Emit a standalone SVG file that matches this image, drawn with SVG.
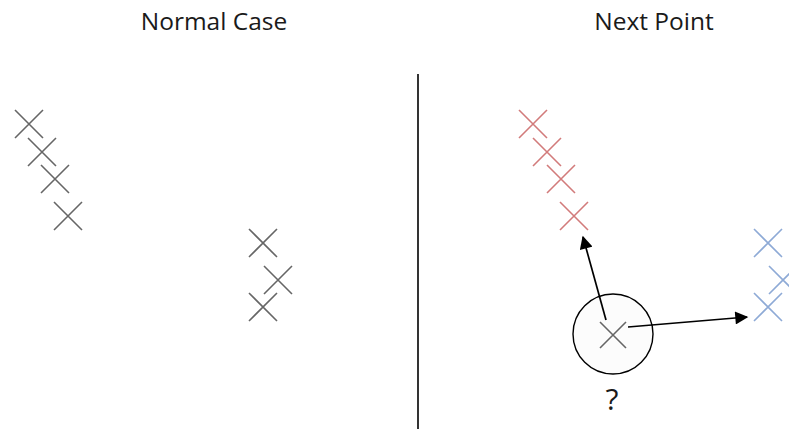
<svg xmlns="http://www.w3.org/2000/svg" width="789" height="429" viewBox="0 0 789 429">
<defs>
<style>
.t{font-family:"Open Sans","Noto Sans","Liberation Sans",sans-serif;font-size:24.5px;fill:#1a1a1a;text-anchor:middle}
.xg{stroke:#666;stroke-width:1.6;fill:none}
.xr{stroke:#d27b7b;stroke-width:1.6;fill:none}
.xb{stroke:#8eaad6;stroke-width:1.6;fill:none}
.ar{stroke:#000;stroke-width:1.7;fill:none;marker-end:url(#ah)}
</style>
<marker id="ah" viewBox="0 0 10 10" refX="9" refY="5" markerWidth="14" markerHeight="13" markerUnits="userSpaceOnUse" orient="auto">
<path d="M0,0 L10,5 L0,10 z" fill="#000"/>
</marker>
<path id="x" d="M-14,-14 L14,14 M14,-14 L-14,14"/>
<path id="xs" d="M-13,-13 L13,13 M13,-13 L-13,13"/>
</defs>
<rect width="789" height="429" fill="#fff"/>
<text class="t" x="214" y="30">Normal Case</text>
<text class="t" x="654" y="30">Next Point</text>
<line x1="418" y1="74" x2="418" y2="429" stroke="#000" stroke-width="1.6"/>
<g id="normal-left">
<use href="#x" class="xg" x="29" y="124"/>
<use href="#x" class="xg" x="42" y="152"/>
<use href="#x" class="xg" x="55" y="179"/>
<use href="#x" class="xg" x="68" y="216"/>
</g>
<g id="normal-right">
<use href="#x" class="xg" x="263" y="243"/>
<use href="#x" class="xg" x="278" y="280"/>
<use href="#x" class="xg" x="263" y="307"/>
</g>
<g id="red-cluster">
<use href="#x" class="xr" x="533" y="124"/>
<use href="#x" class="xr" x="547" y="152"/>
<use href="#x" class="xr" x="561" y="179"/>
<use href="#x" class="xr" x="574" y="216"/>
</g>
<g id="blue-cluster">
<use href="#x" class="xb" x="768" y="243"/>
<use href="#x" class="xb" x="783" y="280"/>
<use href="#x" class="xb" x="768" y="307"/>
</g>
<g id="query-point">
<circle cx="613" cy="334" r="40" fill="#fcfcfc" stroke="#000" stroke-width="1.4"/>
<use href="#xs" class="xg" x="613" y="335"/>
<text class="t" x="612" y="410" style="font-size:30px">?</text>
</g>
<g id="connectors">
<line class="ar" x1="606" y1="320" x2="583" y2="237"/>
<line class="ar" x1="628" y1="327" x2="747" y2="317"/>
</g>
</svg>
